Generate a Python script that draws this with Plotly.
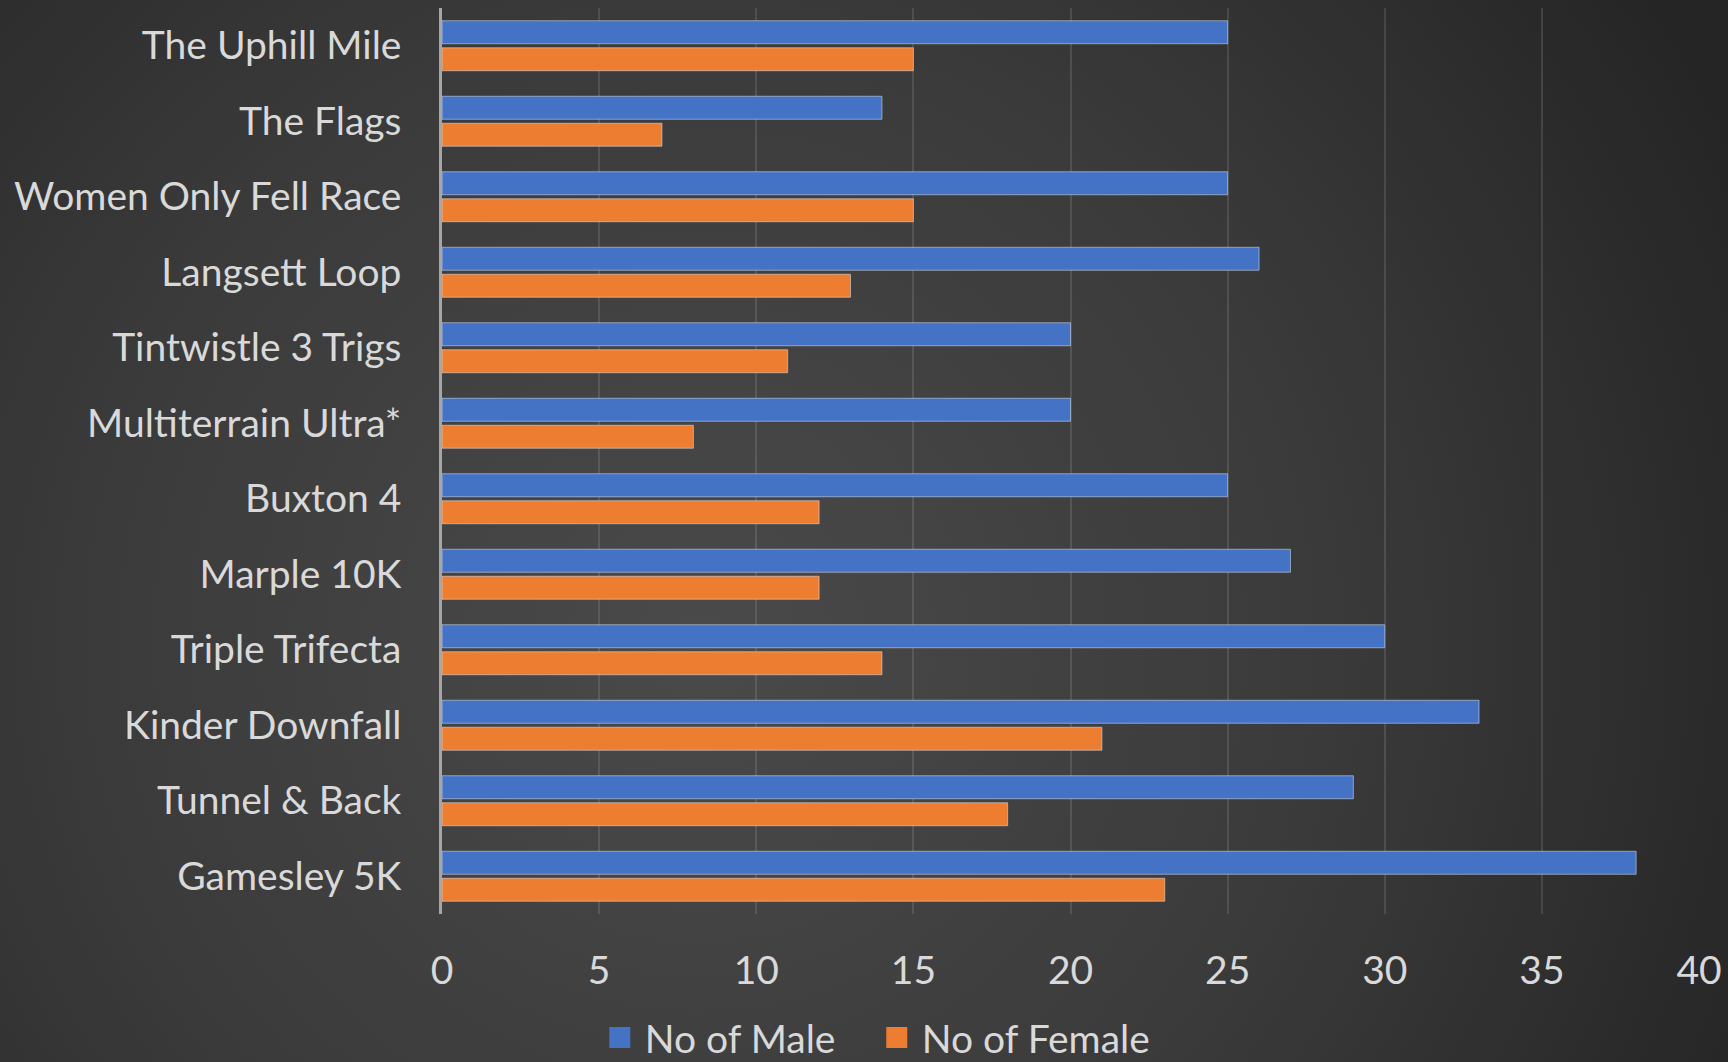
import base64
import plotly.graph_objects as go

# ---- data (top-to-bottom as shown) ----
races = ["The Uphill Mile", "The Flags", "Women Only Fell Race", "Langsett Loop",
         "Tintwistle 3 Trigs", "Multiterrain Ultra*", "Buxton 4", "Marple 10K",
         "Triple Trifecta", "Kinder Downfall", "Tunnel & Back", "Gamesley 5K"]
male = [25, 14, 25, 26, 20, 20, 25, 27, 30, 33, 29, 38]
female = [15, 7, 15, 13, 11, 8, 12, 12, 14, 21, 18, 23]
x_ticks = [0, 5, 10, 15, 20, 25, 30, 35, 40]

BLUE = "#4472C4"
ORANGE = "#ED7D31"
TEXT = "#D9D9D9"
FONT = "Lato"
FS = 39
W, H = 1728, 1062
ML, MR, MT, MB = 442, 29, 8, 148

svg = (
    f"<svg xmlns='http://www.w3.org/2000/svg' width='{W}' height='{H}' viewBox='0 0 {W} {H}' preserveAspectRatio='none'>"
    "<defs><radialGradient id='g' gradientUnits='userSpaceOnUse' cx='700' cy='640' r='1150'>"
    "<stop offset='0' stop-color='#4a4a4a'/><stop offset='0.55' stop-color='#3a3a3a'/>"
    "<stop offset='1' stop-color='#252525'/></radialGradient></defs>"
    f"<rect width='{W}' height='{H}' fill='url(#g)'/></svg>"
)
bg_src = "data:image/svg+xml;base64," + base64.b64encode(svg.encode()).decode()

pw = W - ML - MR
ph = H - MT - MB

fig = go.Figure()
fig.add_trace(go.Bar(y=races, x=male, orientation="h", name="No of Male",
                     marker=dict(color=BLUE), showlegend=False, hoverinfo="x+y"))
fig.add_trace(go.Bar(y=races, x=female, orientation="h", name="No of Female",
                     marker=dict(color=ORANGE), showlegend=False, hoverinfo="x+y"))
# legend entries (larger square symbols)
for nm, col in [("No of Male", BLUE), ("No of Female", ORANGE)]:
    fig.add_trace(go.Scatter(x=[None], y=[None], mode="markers", name=nm,
                             marker=dict(symbol="square", size=16, color=col,
                                         line=dict(color=col, width=5))))

fig.update_layout(
    width=W, height=H,
    margin=dict(l=ML, r=MR, t=MT, b=MB, autoexpand=False),
    paper_bgcolor="#333333",
    plot_bgcolor="rgba(0,0,0,0)",
    barmode="group", bargap=0.285, bargroupgap=0.148,
    font=dict(family=FONT, color=TEXT, size=FS),
    showlegend=True,
    legend=dict(orientation="h", xref="container", yref="container",
                x=0.5045, xanchor="center", y=0.023, yanchor="middle",
                font=dict(size=FS, color=TEXT, family=FONT),
                bgcolor="rgba(0,0,0,0)", itemwidth=40,
                entrywidth=222, entrywidthmode="pixels"),
    images=[dict(source=bg_src, xref="paper", yref="paper",
                 x=-ML / pw, y=1 + MT / ph, sizex=W / pw, sizey=H / ph,
                 xanchor="left", yanchor="top", sizing="stretch", layer="below")],
)
fig.update_xaxes(range=[0, 40], tickvals=x_ticks, showgrid=True,
                 gridcolor="rgba(200,200,200,0.16)", gridwidth=2,
                 zeroline=False, showline=False, ticks="",
                 tickfont=dict(size=FS, color=TEXT, family=FONT),
                 ticklabelstandoff=30, fixedrange=True)
fig.update_yaxes(autorange="reversed", showgrid=False, zeroline=False,
                 showline=True, linecolor="#A6A6A6", linewidth=2.5, ticks="",
                 tickfont=dict(size=FS, color=TEXT, family=FONT),
                 ticklabelstandoff=30, fixedrange=True)

fig.write_html("out.html")
